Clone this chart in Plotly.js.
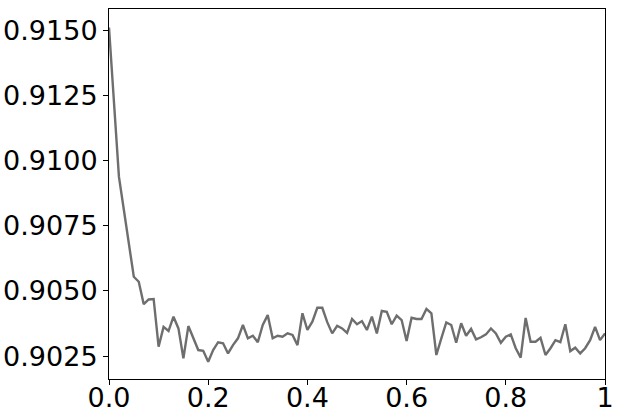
<!DOCTYPE html>
<html>
<head>
<meta charset="utf-8">
<script src="https://cdn.plot.ly/plotly-3.0.1.min.js"></script>
<style>html,body{margin:0;padding:0;background:#fff;}#chart{width:620px;height:415px;}</style>
</head>
<body>
<div id="chart"></div>
<script>
const yValues = [
  0.9151, 0.91232, 0.90938, 0.90810, 0.90676, 0.90554, 0.90535, 0.90449, 0.90467, 0.90469,
  0.90286, 0.90362, 0.90346, 0.90401, 0.90356, 0.90241, 0.90365, 0.90322, 0.90273, 0.90270,
  0.90228, 0.90273, 0.90303, 0.90299, 0.90260, 0.90292, 0.90318, 0.90369, 0.90318, 0.90328,
  0.90303, 0.90369, 0.90407, 0.90318, 0.90328, 0.90324, 0.90337, 0.90331, 0.90292, 0.90414,
  0.90350, 0.90382, 0.90435, 0.90435, 0.90380, 0.90337, 0.90366, 0.90356, 0.90339, 0.90392,
  0.90372, 0.90384, 0.90350, 0.90401, 0.90337, 0.90423, 0.90420, 0.90372, 0.90405, 0.90388,
  0.90308, 0.90397, 0.90392, 0.90392, 0.90431, 0.90414, 0.90254, 0.90318, 0.90379, 0.90369,
  0.90301, 0.90376, 0.90328, 0.90354, 0.90314, 0.90322, 0.90333, 0.90356, 0.90337, 0.90301,
  0.90324, 0.90333, 0.90280, 0.90244, 0.90396, 0.90305, 0.90305, 0.90320, 0.90254, 0.90280,
  0.90311, 0.90303, 0.90372, 0.90269, 0.90282, 0.90260, 0.90280, 0.90311, 0.90362, 0.90311,
  0.90337
];
const xValues = [
  0.00,0.01,0.02,0.03,0.04,0.05,0.06,0.07,0.08,0.09,
  0.10,0.11,0.12,0.13,0.14,0.15,0.16,0.17,0.18,0.19,
  0.20,0.21,0.22,0.23,0.24,0.25,0.26,0.27,0.28,0.29,
  0.30,0.31,0.32,0.33,0.34,0.35,0.36,0.37,0.38,0.39,
  0.40,0.41,0.42,0.43,0.44,0.45,0.46,0.47,0.48,0.49,
  0.50,0.51,0.52,0.53,0.54,0.55,0.56,0.57,0.58,0.59,
  0.60,0.61,0.62,0.63,0.64,0.65,0.66,0.67,0.68,0.69,
  0.70,0.71,0.72,0.73,0.74,0.75,0.76,0.77,0.78,0.79,
  0.80,0.81,0.82,0.83,0.84,0.85,0.86,0.87,0.88,0.89,
  0.90,0.91,0.92,0.93,0.94,0.95,0.96,0.97,0.98,0.99,
  1.00
];
const xTickVals = [0, 0.2, 0.4, 0.6, 0.8, 1];
const xTickText = ["0.0", "0.2", "0.4", "0.6", "0.8", "1"];
const yTickVals = [0.9025, 0.9050, 0.9075, 0.9100, 0.9125, 0.9150];
const yTickText = ["0.9025", "0.9050", "0.9075", "0.9100", "0.9125", "0.9150"];

const trace = {
  x: xValues, y: yValues, type: 'scatter', mode: 'lines',
  line: {color: 'rgb(110,110,110)', width: 2.4},
  showlegend: false, hoverinfo: 'skip', cliponaxis: false
};
const layout = {
  width: 620, height: 415,
  margin: {l: 109, r: 15, t: 9, b: 36, pad: 0},
  paper_bgcolor: '#fff', plot_bgcolor: '#fff',
  font: {family: 'DejaVu Sans', size: 27, color: '#000'},
  xaxis: {
    range: [0, 1], tickvals: xTickVals, ticktext: xTickText,
    ticks: 'outside', ticklen: 5, tickwidth: 1, tickcolor: '#000',
    ticklabelstandoff: -10,
    showgrid: false, zeroline: false, showline: true, linecolor: '#000', linewidth: 1, mirror: true,
    tickfont: {family: 'DejaVu Sans', size: 27, color: '#000'}
  },
  yaxis: {
    range: [0.90162, 0.91581], tickvals: yTickVals, ticktext: yTickText,
    ticks: 'outside', ticklen: 5, tickwidth: 1, tickcolor: '#000',
    showgrid: false, zeroline: false, showline: true, linecolor: '#000', linewidth: 1, mirror: true,
    tickfont: {family: 'DejaVu Sans', size: 27, color: '#000'}
  }
};
Plotly.newPlot('chart', [trace], layout, {displayModeBar: false, staticPlot: true});
</script>
</body>
</html>
